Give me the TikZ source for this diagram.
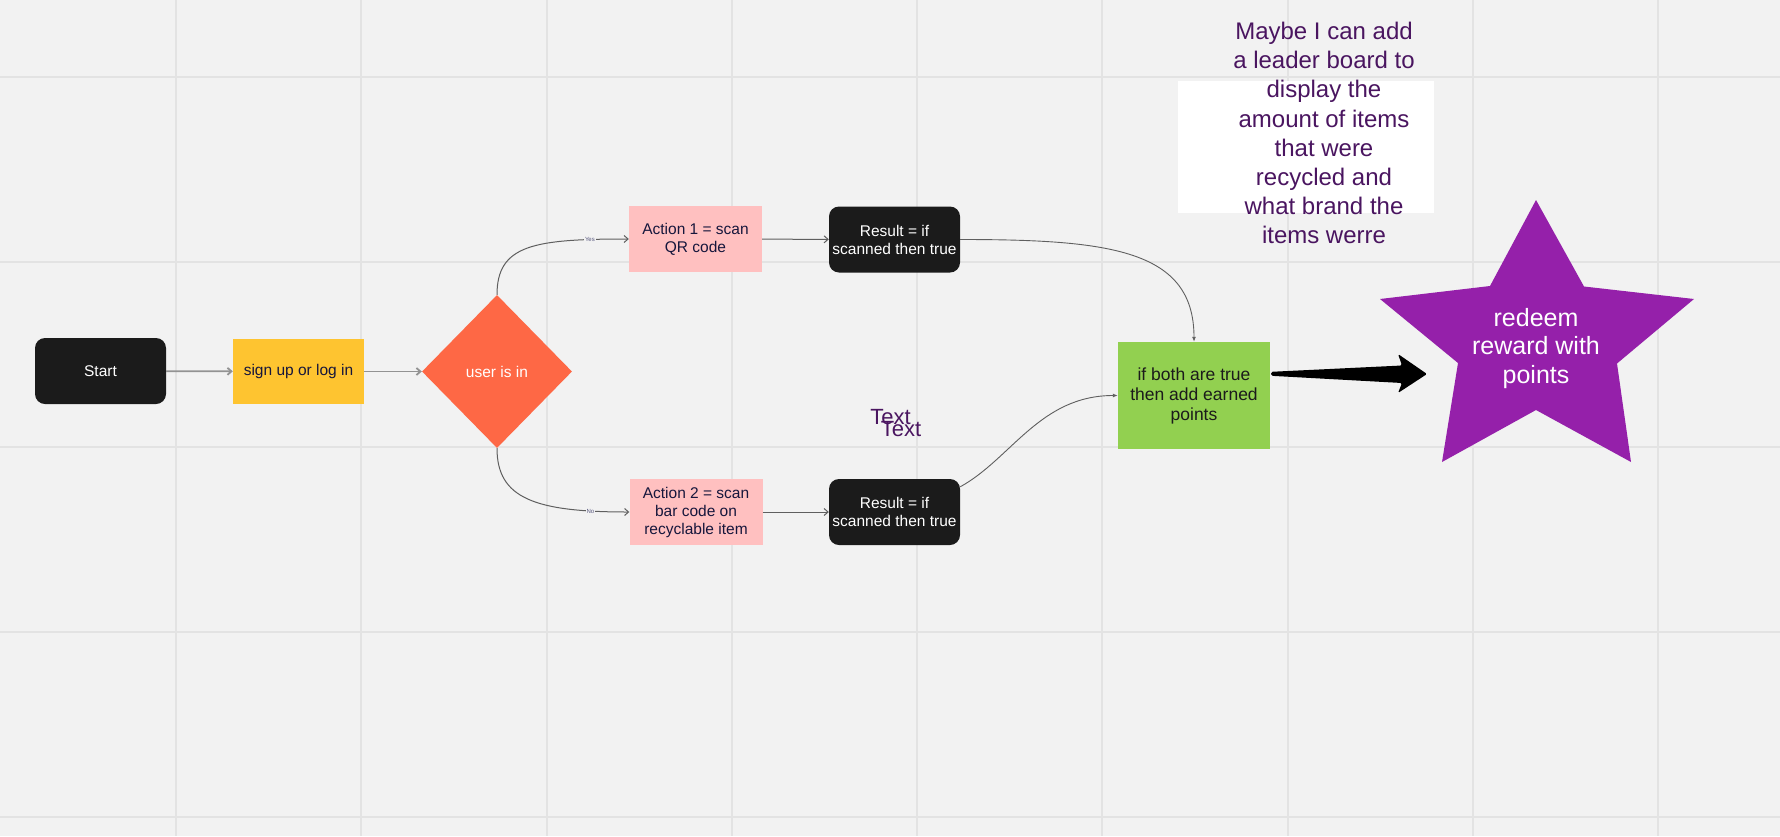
\documentclass[tikz,border=0pt]{standalone}
\usepackage{fontspec}
\setmainfont{Liberation Sans}
\usetikzlibrary{shapes.geometric,arrows.meta,calc}
\definecolor{bg}{HTML}{F2F2F2}
\definecolor{gridc}{HTML}{E3E3E3}
\definecolor{blk}{HTML}{1B1B1B}
\definecolor{yel}{HTML}{FEC430}
\definecolor{tom}{HTML}{FE6845}
\definecolor{pinkc}{HTML}{FFC0C0}
\definecolor{grn}{HTML}{92D050}
\definecolor{purp}{HTML}{9520AA}
\definecolor{notec}{HTML}{4A1560}
\definecolor{navy}{HTML}{16163C}
\definecolor{lbl}{HTML}{5A5A80}
\definecolor{wire}{HTML}{5F5F5F}
\tikzset{
  boxbase/.style={inner sep=0pt, align=center, font=\fontsize{15.5}{18}\selectfont},
  blackbox/.style={boxbase, fill=blk, text=white, rounded corners=10pt, minimum width=131pt, minimum height=66pt},
  yelbox/.style={boxbase, fill=yel, text=navy, minimum width=131pt, minimum height=65pt},
  pinkbox/.style={boxbase, fill=pinkc, text=navy, minimum width=133pt, minimum height=66pt},
  greenbox/.style={inner sep=0pt, align=center, fill=grn, text=blk, minimum width=152pt, minimum height=107pt, font=\fontsize{17.5}{20}\selectfont},
  decbox/.style={boxbase, diamond, fill=tom, text=white, minimum width=150pt, minimum height=153pt},
  wirearrow/.style={draw=wire, line width=1pt, -{Straight Barb[length=4pt,width=7pt]}},
  thickwire/.style={draw=gray!85, line width=1.8pt, -{Straight Barb[length=4pt,width=7pt]}},
  filledwire/.style={draw=wire, line width=0.9pt, -{Latex[length=5pt,width=4pt]}},
  lab/.style={font=\fontsize{6}{7}\selectfont, text=lbl, fill=bg, inner sep=1pt},
  notetext/.style={align=center, text=notec, font=\fontsize{24}{29.1}\selectfont},
  startext/.style={align=center, text=white, font=\fontsize{25}{28.5}\selectfont},
  tlabel/.style={anchor=base, text=notec, inner sep=0pt, font=\fontsize{22}{24}\selectfont},
}
\begin{document}
\begin{tikzpicture}[x=1pt,y=-1pt]
\useasboundingbox (0,0) rectangle (1780,836);
\fill[bg] (0,0) rectangle (1780,836);
\foreach \i in {0,...,8} \draw[gridc, line width=2pt] ({176+185.25*\i},0) -- ++(0,836);
\foreach \j in {0,...,4} \draw[gridc, line width=2pt] (0,{77+185*\j}) -- ++(1780,0);

% note
\fill[white] (1178,81) rectangle (1434,213);
\node[notetext] (note) at (1324,133) {Maybe I can add\\a leader board to\\display the\\amount of items\\that were\\recycled and\\what brand the\\items werre};

% nodes
\node[blackbox] (start) at (100.5,371) {Start};
\node[yelbox] (sign) at (298.5,371.5) {sign up or log in};
\node[decbox] (dec) at (497,371.5) {user is in};
\node[pinkbox] (a1) at (695.5,239) {Action 1 = scan\\QR code};
\node[blackbox] (r1) at (894.5,239.5) {Result = if\\scanned then true};
\node[pinkbox] (a2) at (696,512) {Action 2 = scan\\bar code on\\recyclable item};
\node[blackbox] (r2) at (894.5,512) {Result = if\\scanned then true};
\node[greenbox] (g) at (1194,395.5) {if both are true\\then add earned\\points};

\node[tlabel] (t1) at (890.5,424) {Text};
\node[tlabel] (t2) at (901,436) {Text};

% star
\fill[purp] (1536,200) -- (1584,286.5) -- (1694,299) -- (1617,363.5) -- (1631,462) -- (1536,410) -- (1442,462) -- (1458,363) -- (1380,299) -- (1490,286) -- cycle;
\node[startext] (star) at (1536,348.5) {redeem\\reward with\\points};

% connectors
\draw[thickwire] (start) -- (sign);
\draw[thickwire] (sign) -- (dec);
\draw[wirearrow] (a1) -- (r1);
\draw[wirearrow] (a2) -- (r2);
\draw[wirearrow] (dec.north) .. controls +(0,-50) and +(-95,0) .. node[pos=0.85, lab] {Yes} (a1.west);
\draw[wirearrow] (dec.south) .. controls +(0,50) and +(-95,0) .. node[pos=0.85, lab] {No} (a2.west);
\draw[filledwire] (r1.east) .. controls +(150,0) and +(0,-92) .. (g.north);
\draw[filledwire] ($(r2.north east)+(0,8)$) .. controls +(51,-28) and +(-78,0) .. (g.west);

% big arrow
\coordinate (bs) at ($(g.north east)+(1,32)$);
\coordinate (tip) at (1427,374);
\fill[black, rounded corners=1.5pt] ($(bs)+(0,-2)$) -- ($(tip)+(-25,-8.5)$) -- ($(tip)+(-29,-20)$) -- (tip) -- ($(tip)+(-29,19)$) -- ($(tip)+(-25,9)$) -- ($(bs)+(0,2)$) -- cycle;
\end{tikzpicture}
\end{document}
